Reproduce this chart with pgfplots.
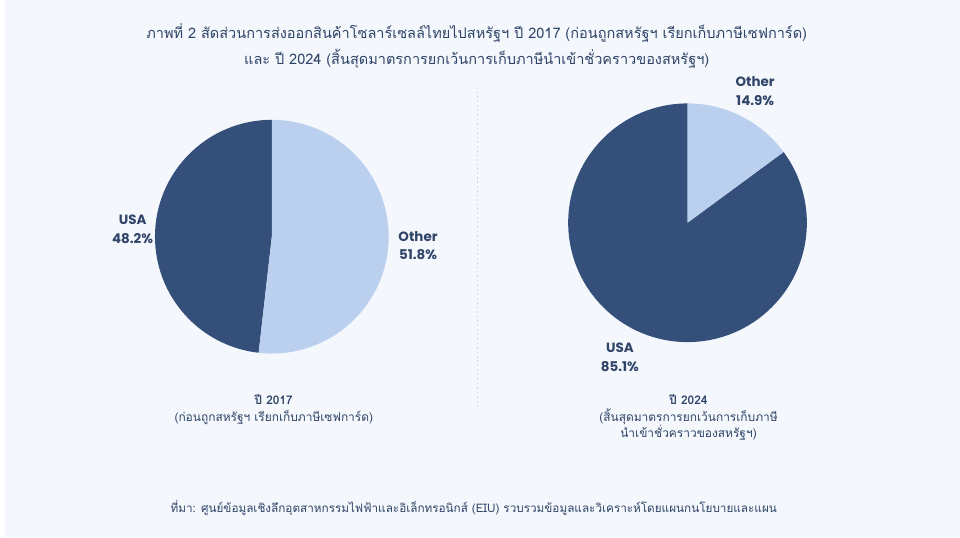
\documentclass[border=0pt]{standalone}
\usepackage{pgfplots}
\pgfplotsset{compat=1.18}
\usepackage{pgfplotstable}
\usepackage{fontspec}
\setmainfont{Poppins}
\newfontfamily\thai[Script=Thai]{Loma}

\definecolor{bg}{HTML}{F4F7FC}
\definecolor{navy}{HTML}{34507A}
\definecolor{light}{HTML}{BBD0EE}
\definecolor{txt}{HTML}{2F4468}
\definecolor{sep}{HTML}{CDD4DE}

\pgfplotstableread{
cat value
USA 48.2
Other 51.8
}\pieA
\pgfplotstableread{
cat value
USA 85.1
Other 14.9
}\pieB

\begin{document}
\pgfplotstablegetelem{0}{value}\of\pieA \let\usaA\pgfplotsretval
\pgfplotstablegetelem{0}{value}\of\pieB \let\usaB\pgfplotsretval
\pgfmathsetmacro{\endA}{90+3.6*\usaA}
\pgfmathsetmacro{\endB}{90+3.6*\usaB}
\begin{tikzpicture}
\begin{axis}[width=960pt,height=540pt,scale only axis,
  xmin=0,xmax=960,ymin=0,ymax=540,hide axis,clip=false]
\fill[bg] (axis cs:0,0) rectangle (axis cs:960,540);
% left pie (2017)
\fill[navy] (axis cs:268,302) -- ++(90:117.5pt) arc[start angle=90,end angle=\endA,radius=117.5pt] -- cycle;
\fill[light] (axis cs:268,302) -- ++(\endA:117.5pt) arc[start angle=\endA,end angle=450,radius=117.5pt] -- cycle;
% right pie (2024)
\fill[navy] (axis cs:686,316) -- ++(90:120pt) arc[start angle=90,end angle=\endB,radius=120pt] -- cycle;
\fill[light] (axis cs:686,316) -- ++(\endB:120pt) arc[start angle=\endB,end angle=450,radius=120pt] -- cycle;
% separator
\draw[sep, line width=1.5pt, dash pattern=on 1.5pt off 3pt] (axis cs:475,452) -- (axis cs:475,130);
% labels
\node[text=txt,font=\bfseries\fontsize{13.5}{19}\selectfont,align=center] at (axis cs:128,309) {USA\\48.2\%};
\node[text=txt,font=\bfseries\fontsize{13.5}{19}\selectfont,align=center] at (axis cs:415,293) {Other\\51.8\%};
\node[text=txt,font=\bfseries\fontsize{13.5}{19}\selectfont,align=center] at (axis cs:754,448) {Other\\14.9\%};
\node[text=txt,font=\bfseries\fontsize{13.5}{19}\selectfont,align=center] at (axis cs:618,181) {USA\\85.1\%};
% titles
\node[text=txt,font=\thai\fontsize{14.6}{26}\selectfont,align=center] at (axis cs:474,494) {ภาพที่ 2 สัดส่วนการส่งออกสินค้าโซลาร์เซลล์ไทยไปสหรัฐฯ ปี 2017 (ก่อนถูกสหรัฐฯ เรียกเก็บภาษีเซฟการ์ด)\\และ ปี 2024 (สิ้นสุดมาตรการยกเว้นการเก็บภาษีนำเข้าชั่วคราวของสหรัฐฯ)};
% subtitles
\node[text=txt,font=\thai\fontsize{12}{17}\selectfont,align=center] at (axis cs:270,128) {\textbf{ปี 2017}\\(ก่อนถูกสหรัฐฯ เรียกเก็บภาษีเซฟการ์ด)};
\node[text=txt,font=\thai\fontsize{12}{16.5}\selectfont,align=center] at (axis cs:687,120) {\textbf{ปี 2024}\\(สิ้นสุดมาตรการยกเว้นการเก็บภาษี\\นำเข้าชั่วคราวของสหรัฐฯ)};
% footer
\node[text=txt,font=\thai\fontsize{11.8}{14}\selectfont] at (axis cs:471,29) {ที่มา: ศูนย์ข้อมูลเชิงลึกอุตสาหกรรมไฟฟ้าและอิเล็กทรอนิกส์ (EIU) รวบรวมข้อมูลและวิเคราะห์โดยแผนกนโยบายและแผน};
\end{axis}
\pgfresetboundingbox
\useasboundingbox (current axis.south west) rectangle (current axis.north east);
\end{tikzpicture}
\end{document}
